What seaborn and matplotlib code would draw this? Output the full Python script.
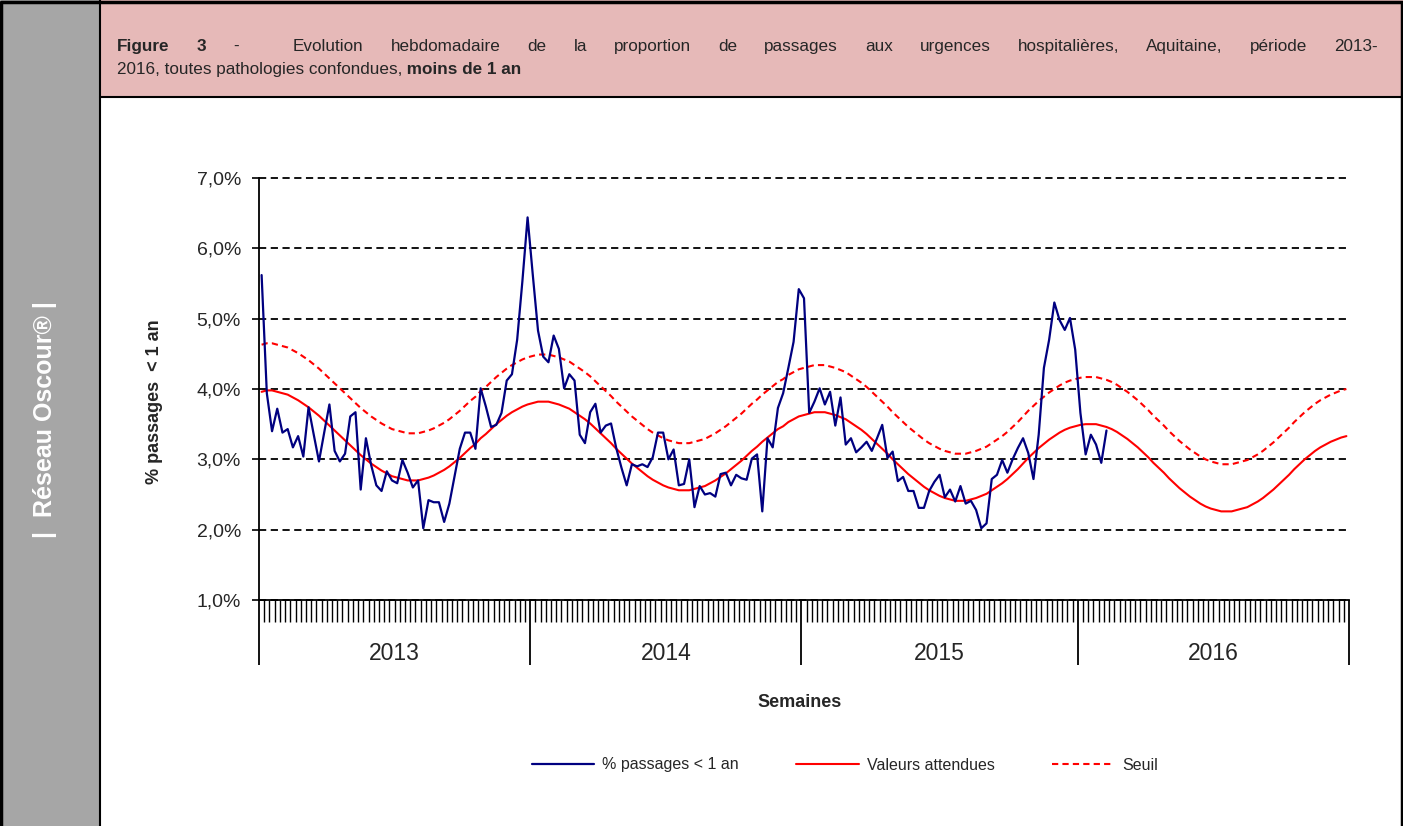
import numpy as np
import pandas as pd
import matplotlib.pyplot as plt
import seaborn as sns
from matplotlib.patches import Rectangle
from matplotlib.lines import Line2D
from matplotlib.ticker import FuncFormatter

# years on the axis and number of weeks in each
years = ['2013', '2014', '2015', '2016']
weeks_per_year = [52, 52, 53, 52]

# weekly % of ER visits for children < 1 year (observed, stops early 2016)
pct_passages = [
    5.62, 3.94, 3.40, 3.72, 3.38, 3.43, 3.17, 3.33, 3.04, 3.74,
    3.35, 2.97, 3.38, 3.78, 3.12, 2.97, 3.08, 3.61, 3.67, 2.57,
    3.30, 2.92, 2.63, 2.55, 2.83, 2.70, 2.66, 2.99, 2.81, 2.60,
    2.70, 2.02, 2.42, 2.39, 2.39, 2.11, 2.37, 2.76, 3.15, 3.38,
    3.38, 3.15, 4.01, 3.75, 3.46, 3.49, 3.66, 4.12, 4.21, 4.70,
    5.53, 6.44, 5.62, 4.83, 4.46, 4.38, 4.76, 4.57, 4.01, 4.21,
    4.12, 3.35, 3.23, 3.67, 3.79, 3.38, 3.48, 3.51, 3.16, 2.88,
    2.63, 2.93, 2.90, 2.93, 2.89, 3.03, 3.38, 3.38, 3.00, 3.14,
    2.63, 2.65, 3.00, 2.32, 2.62, 2.50, 2.52, 2.47, 2.79, 2.81,
    2.63, 2.78, 2.73, 2.71, 3.01, 3.07, 2.26, 3.30, 3.17, 3.73,
    3.94, 4.30, 4.67, 5.42, 5.29, 3.66, 3.82, 4.01, 3.78, 3.96,
    3.48, 3.88, 3.21, 3.30, 3.10, 3.17, 3.25, 3.12, 3.30, 3.49,
    3.02, 3.11, 2.69, 2.75, 2.55, 2.55, 2.31, 2.31, 2.55, 2.68,
    2.78, 2.46, 2.57, 2.40, 2.62, 2.37, 2.41, 2.28, 2.02, 2.09,
    2.72, 2.78, 2.99, 2.81, 3.00, 3.16, 3.30, 3.09, 2.72, 3.35,
    4.30, 4.70, 5.23, 4.98, 4.84, 5.01, 4.56, 3.66, 3.07, 3.35,
    3.21, 2.95, 3.41,
]

# expected values (full 4 years)
valeurs_attendues = [
    3.96, 3.98, 3.98, 3.96, 3.94, 3.92, 3.88, 3.84, 3.79, 3.74,
    3.68, 3.62, 3.55, 3.48, 3.41, 3.34, 3.27, 3.20, 3.13, 3.06,
    3.00, 2.94, 2.89, 2.84, 2.80, 2.76, 2.74, 2.72, 2.70, 2.70,
    2.70, 2.72, 2.74, 2.77, 2.81, 2.85, 2.90, 2.96, 3.02, 3.09,
    3.16, 3.22, 3.30, 3.36, 3.43, 3.50, 3.56, 3.62, 3.67, 3.71,
    3.75, 3.78, 3.80, 3.82, 3.82, 3.82, 3.80, 3.78, 3.75, 3.72,
    3.67, 3.62, 3.57, 3.51, 3.44, 3.37, 3.30, 3.23, 3.15, 3.08,
    3.01, 2.94, 2.88, 2.82, 2.76, 2.71, 2.67, 2.63, 2.60, 2.58,
    2.56, 2.56, 2.56, 2.58, 2.60, 2.62, 2.66, 2.70, 2.75, 2.80,
    2.86, 2.92, 2.98, 3.05, 3.12, 3.18, 3.25, 3.31, 3.37, 3.43,
    3.47, 3.53, 3.57, 3.61, 3.63, 3.65, 3.67, 3.67, 3.67, 3.65,
    3.63, 3.60, 3.57, 3.52, 3.47, 3.42, 3.36, 3.29, 3.22, 3.15,
    3.08, 3.00, 2.93, 2.86, 2.79, 2.73, 2.67, 2.61, 2.56, 2.52,
    2.48, 2.45, 2.43, 2.41, 2.41, 2.41, 2.43, 2.45, 2.48, 2.51,
    2.56, 2.61, 2.66, 2.72, 2.79, 2.86, 2.94, 3.02, 3.09, 3.16,
    3.22, 3.28, 3.33, 3.38, 3.42, 3.45, 3.47, 3.49, 3.50, 3.50,
    3.50, 3.48, 3.46, 3.43, 3.39, 3.34, 3.29, 3.23, 3.17, 3.10,
    3.03, 2.95, 2.88, 2.81, 2.73, 2.66, 2.59, 2.53, 2.47, 2.42,
    2.37, 2.33, 2.30, 2.28, 2.26, 2.26, 2.26, 2.28, 2.30, 2.32,
    2.36, 2.40, 2.45, 2.51, 2.57, 2.64, 2.71, 2.78, 2.86, 2.93,
    3.00, 3.06, 3.12, 3.17, 3.21, 3.25, 3.28, 3.31, 3.33,
]

# epidemic threshold
seuil = [
    4.63, 4.65, 4.65, 4.63, 4.61, 4.59, 4.55, 4.51, 4.46, 4.41,
    4.35, 4.29, 4.22, 4.15, 4.08, 4.01, 3.94, 3.87, 3.80, 3.73,
    3.67, 3.61, 3.56, 3.51, 3.47, 3.43, 3.41, 3.39, 3.37, 3.37,
    3.37, 3.39, 3.41, 3.44, 3.48, 3.52, 3.57, 3.63, 3.69, 3.76,
    3.83, 3.89, 3.97, 4.03, 4.10, 4.17, 4.23, 4.29, 4.34, 4.38,
    4.42, 4.45, 4.47, 4.49, 4.49, 4.49, 4.47, 4.45, 4.42, 4.39,
    4.34, 4.29, 4.24, 4.18, 4.11, 4.04, 3.97, 3.90, 3.82, 3.75,
    3.68, 3.61, 3.55, 3.49, 3.43, 3.38, 3.34, 3.30, 3.27, 3.25,
    3.23, 3.23, 3.23, 3.25, 3.27, 3.29, 3.33, 3.37, 3.42, 3.47,
    3.53, 3.59, 3.65, 3.72, 3.79, 3.85, 3.92, 3.98, 4.04, 4.10,
    4.14, 4.20, 4.24, 4.28, 4.30, 4.32, 4.34, 4.34, 4.34, 4.32,
    4.30, 4.27, 4.24, 4.19, 4.14, 4.09, 4.03, 3.96, 3.89, 3.82,
    3.75, 3.67, 3.60, 3.53, 3.46, 3.40, 3.34, 3.28, 3.23, 3.19,
    3.15, 3.12, 3.10, 3.08, 3.08, 3.08, 3.10, 3.12, 3.15, 3.18,
    3.23, 3.28, 3.33, 3.39, 3.46, 3.53, 3.61, 3.69, 3.76, 3.83,
    3.89, 3.95, 4.00, 4.05, 4.09, 4.12, 4.14, 4.16, 4.17, 4.17,
    4.17, 4.15, 4.13, 4.10, 4.06, 4.01, 3.96, 3.90, 3.84, 3.77,
    3.70, 3.62, 3.55, 3.48, 3.40, 3.33, 3.26, 3.20, 3.14, 3.09,
    3.04, 3.00, 2.97, 2.95, 2.93, 2.93, 2.93, 2.95, 2.97, 2.99,
    3.03, 3.07, 3.12, 3.18, 3.24, 3.31, 3.38, 3.45, 3.53, 3.60,
    3.67, 3.73, 3.79, 3.84, 3.88, 3.92, 3.95, 3.98, 4.00,
]

sns.set_style('white')
plt.rcParams['font.family'] = ['Liberation Sans', 'DejaVu Sans']

n_weeks = sum(weeks_per_year)
ref = pd.DataFrame({'semaine': np.arange(n_weeks) + 0.5,
                    'attendu': valeurs_attendues, 'seuil': seuil})
obs = pd.DataFrame({'semaine': np.arange(len(pct_passages)) + 0.5,
                    'pct': pct_passages})

W, H = 1403, 826
fig = plt.figure(figsize=(W / 100, H / 100), dpi=100)

#%% frame: grey side band + pink header
fig.add_artist(Rectangle((0, 0), 100 / W, 1, transform=fig.transFigure,
                         facecolor='#A6A6A6', edgecolor='none', zorder=0))
fig.add_artist(Rectangle((100 / W, 1 - 97 / H), 1 - 100 / W, 97 / H, transform=fig.transFigure,
                         facecolor='#E6B9B8', edgecolor='none', zorder=0))
fig.add_artist(Line2D([100 / W, 1], [1 - 97 / H] * 2, transform=fig.transFigure, color='black', lw=1.5))
fig.add_artist(Line2D([100 / W] * 2, [0, 1], transform=fig.transFigure, color='black', lw=1.5))
fig.add_artist(Line2D([0.001, 0.001, 0.999, 0.999], [0, 0.998, 0.998, 0], transform=fig.transFigure,
                      color='black', lw=2.5))

fig.text(45 / W, 1 - 420 / H, '|  Réseau Oscour® |', rotation=90, color='white',
         fontsize=18, weight='bold', ha='center', va='center')

#%% plot
ax = fig.add_axes([259 / W, 1 - 600 / H, 1090 / W, 422 / H])
sns.lineplot(data=ref, x='semaine', y='seuil', color='red', lw=1.5, ls=(0, (3, 2)), ax=ax)
sns.lineplot(data=ref, x='semaine', y='attendu', color='red', lw=1.5, ax=ax)
sns.lineplot(data=obs, x='semaine', y='pct', color='#000080', lw=1.6, ax=ax)

ax.set_xlim(0, n_weeks)
ax.set_ylim(1, 7)
ax.set_yticks(range(1, 8))
ax.yaxis.set_major_formatter(FuncFormatter(lambda v, p: f'{v:.1f}%'.replace('.', ',')))
ax.yaxis.grid(True, color='black', ls=(0, (4, 2.5)), lw=1.3)
for gl in ax.get_ygridlines():
    gl.set_clip_on(False)
ax.set_axisbelow(True)
ax.tick_params(axis='y', direction='out', length=5, width=1.2, color='black',
               labelsize=14, pad=8, left=True)

bounds = np.cumsum([0] + weeks_per_year)
ax.set_xticks(bounds)
ax.set_xticks(np.arange(n_weeks + 1), minor=True)
ax.set_xticklabels([])
ax.tick_params(axis='x', which='major', direction='out', length=47, width=1.3, color='black', bottom=True)
ax.tick_params(axis='x', which='minor', direction='out', length=16, width=1.0, color='black', bottom=True)

for s in ['top', 'right']:
    ax.spines[s].set_visible(False)
for s in ['left', 'bottom']:
    ax.spines[s].set_color('black')
    ax.spines[s].set_linewidth(1.3)

for i, y in enumerate(years):
    mid = (bounds[i] + bounds[i + 1]) / 2
    ax.text(mid, -53 / 422, y, transform=ax.get_xaxis_transform(),
            ha='center', va='center', fontsize=16.5)

ax.set_xlabel('Semaines', fontsize=13, weight='bold')
ax.xaxis.set_label_coords(0.496, -94 / 422)
ax.set_ylabel('% passages  < 1 an', fontsize=13, weight='bold')
ax.yaxis.set_label_coords(-96 / 1090, 0.47)

handles = [Line2D([], [], color='#000080', lw=1.6),
           Line2D([], [], color='red', lw=1.5),
           Line2D([], [], color='red', lw=1.5, ls=(0, (3, 2)))]
fig.legend(handles, ['% passages < 1 an', 'Valeurs attendues', 'Seuil'],
           loc='center', bbox_to_anchor=(845 / W, 1 - 765 / H), ncol=3, frameon=False,
           fontsize=11.5, handlelength=3.9, handletextpad=0.5, columnspacing=3.6)

#%% title: first line justified, second line left aligned, with bold parts
fig.canvas.draw()
r = fig.canvas.get_renderer()
fs_title = 12.3

def justified(tokens, x0, x1, y):
    texts, widths = [], []
    for word, wt in tokens:
        t = fig.text(0, 1 - y / H, word, fontsize=fs_title, weight=wt, va='baseline', ha='left')
        texts.append(t)
        widths.append(t.get_window_extent(r).width if word else 0)
    gap = (x1 - x0 - sum(widths)) / (len(tokens) - 1)
    x = x0
    for t, wd in zip(texts, widths):
        t.set_x(x / W)
        x += wd + gap

def chain(parts, x, y):
    for txt, wt in parts:
        t = fig.text(x / W, 1 - y / H, txt, fontsize=fs_title, weight=wt, va='baseline', ha='left')
        x += t.get_window_extent(r).width

line1 = [('Figure', 'bold'), ('3', 'bold'), ('-', 'normal'), ('', 'normal')]
line1 += [(w, 'normal') for w in 'Evolution hebdomadaire de la proportion de passages aux urgences '
          'hospitalières, Aquitaine, période 2013-'.split(' ')]
justified(line1, 117, 1378, 51)
chain([('2016, toutes pathologies confondues,', 'normal'), (' moins de 1 an', 'bold')], 117, 74)

fig.savefig('out.png', dpi=100)
